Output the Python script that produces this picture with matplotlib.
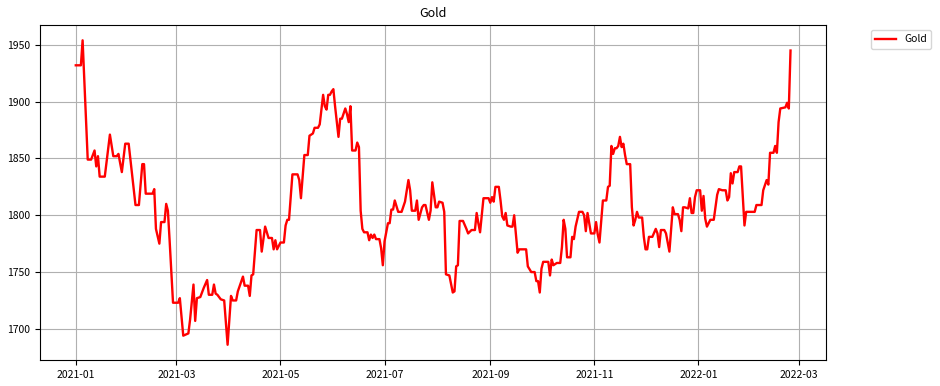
import pandas as pd
import matplotlib
matplotlib.use('Agg')
import matplotlib.pyplot as plt
import matplotlib.dates as mdates

plt.rcParams['font.family'] = ['Noto Sans CJK SC', 'DejaVu Sans']

# Gold price
dates = [
    '2021-01-01', '2021-01-04', '2021-01-05', '2021-01-08', '2021-01-10', '2021-01-12',
    '2021-01-13', '2021-01-14', '2021-01-15', '2021-01-18', '2021-01-21', '2021-01-23',
    '2021-01-25', '2021-01-26', '2021-01-28', '2021-01-30', '2021-02-01', '2021-02-05',
    '2021-02-07', '2021-02-09', '2021-02-10', '2021-02-11', '2021-02-15', '2021-02-16',
    '2021-02-17', '2021-02-19', '2021-02-20', '2021-02-22', '2021-02-23', '2021-02-24',
    '2021-02-25', '2021-02-27', '2021-03-02', '2021-03-03', '2021-03-05', '2021-03-08',
    '2021-03-09', '2021-03-11', '2021-03-12', '2021-03-13', '2021-03-15', '2021-03-16',
    '2021-03-17', '2021-03-19', '2021-03-20', '2021-03-22', '2021-03-23', '2021-03-24',
    '2021-03-25', '2021-03-27', '2021-03-29', '2021-03-31', '2021-04-02', '2021-04-03',
    '2021-04-05', '2021-04-06', '2021-04-09', '2021-04-10', '2021-04-12', '2021-04-13',
    '2021-04-14', '2021-04-15', '2021-04-17', '2021-04-19', '2021-04-20', '2021-04-22',
    '2021-04-24', '2021-04-26', '2021-04-27', '2021-04-28', '2021-04-29', '2021-05-01',
    '2021-05-03', '2021-05-04', '2021-05-05', '2021-05-06', '2021-05-08', '2021-05-11',
    '2021-05-12', '2021-05-13', '2021-05-15', '2021-05-17', '2021-05-18', '2021-05-20',
    '2021-05-21', '2021-05-23', '2021-05-24', '2021-05-26', '2021-05-27', '2021-05-28',
    '2021-05-29', '2021-05-30', '2021-05-31', '2021-06-01', '2021-06-02', '2021-06-04',
    '2021-06-05', '2021-06-06', '2021-06-08', '2021-06-09', '2021-06-10', '2021-06-11',
    '2021-06-12', '2021-06-14', '2021-06-15', '2021-06-16', '2021-06-17', '2021-06-18',
    '2021-06-19', '2021-06-21', '2021-06-22', '2021-06-23', '2021-06-24', '2021-06-25',
    '2021-06-26', '2021-06-28', '2021-06-29', '2021-06-30', '2021-07-01', '2021-07-03',
    '2021-07-04', '2021-07-05', '2021-07-06', '2021-07-07', '2021-07-09', '2021-07-11',
    '2021-07-13', '2021-07-15', '2021-07-16', '2021-07-17', '2021-07-19', '2021-07-20',
    '2021-07-21', '2021-07-23', '2021-07-24', '2021-07-25', '2021-07-27', '2021-07-28',
    '2021-07-29', '2021-07-31', '2021-08-01', '2021-08-02', '2021-08-04', '2021-08-05',
    '2021-08-06', '2021-08-08', '2021-08-10', '2021-08-11', '2021-08-12', '2021-08-13',
    '2021-08-14', '2021-08-16', '2021-08-18', '2021-08-19', '2021-08-21', '2021-08-23',
    '2021-08-24', '2021-08-25', '2021-08-26', '2021-08-28', '2021-08-29', '2021-08-31',
    '2021-09-01', '2021-09-02', '2021-09-03', '2021-09-04', '2021-09-06', '2021-09-07',
    '2021-09-08', '2021-09-09', '2021-09-10', '2021-09-11', '2021-09-13', '2021-09-14',
    '2021-09-15', '2021-09-17', '2021-09-18', '2021-09-22', '2021-09-23', '2021-09-25',
    '2021-09-27', '2021-09-28', '2021-09-29', '2021-09-30', '2021-10-01', '2021-10-02',
    '2021-10-05', '2021-10-06', '2021-10-07', '2021-10-08', '2021-10-10', '2021-10-12',
    '2021-10-13', '2021-10-14', '2021-10-15', '2021-10-16', '2021-10-18', '2021-10-19',
    '2021-10-20', '2021-10-21', '2021-10-23', '2021-10-25', '2021-10-26', '2021-10-27',
    '2021-10-28', '2021-10-30', '2021-11-01', '2021-11-02', '2021-11-03', '2021-11-04',
    '2021-11-06', '2021-11-08', '2021-11-09', '2021-11-10', '2021-11-11', '2021-11-12',
    '2021-11-13', '2021-11-14', '2021-11-15', '2021-11-16', '2021-11-17', '2021-11-18',
    '2021-11-19', '2021-11-20', '2021-11-22', '2021-11-23', '2021-11-24', '2021-11-25',
    '2021-11-26', '2021-11-27', '2021-11-29', '2021-11-30', '2021-12-01', '2021-12-02',
    '2021-12-03', '2021-12-05', '2021-12-07', '2021-12-08', '2021-12-09', '2021-12-10',
    '2021-12-12', '2021-12-13', '2021-12-15', '2021-12-17', '2021-12-18', '2021-12-20',
    '2021-12-21', '2021-12-22', '2021-12-23', '2021-12-24', '2021-12-26', '2021-12-27',
    '2021-12-28', '2021-12-29', '2021-12-30', '2021-12-31', '2022-01-02', '2022-01-03',
    '2022-01-04', '2022-01-05', '2022-01-06', '2022-01-08', '2022-01-10', '2022-01-11',
    '2022-01-12', '2022-01-13', '2022-01-15', '2022-01-17', '2022-01-18', '2022-01-19',
    '2022-01-20', '2022-01-21', '2022-01-22', '2022-01-24', '2022-01-25', '2022-01-26',
    '2022-01-28', '2022-01-29', '2022-02-03', '2022-02-04', '2022-02-07', '2022-02-08',
    '2022-02-10', '2022-02-11', '2022-02-12', '2022-02-14', '2022-02-15', '2022-02-16',
    '2022-02-17', '2022-02-18', '2022-02-21', '2022-02-22', '2022-02-23', '2022-02-24',
]
gold = [
    1932, 1932, 1954, 1849, 1849, 1857,
    1843, 1852, 1834, 1834, 1871, 1852,
    1852, 1854, 1838, 1863, 1863, 1809,
    1809, 1845, 1845, 1819, 1819, 1823,
    1788, 1775, 1794, 1794, 1810, 1804,
    1778, 1723, 1723, 1727, 1694, 1696,
    1708, 1739, 1707, 1727, 1728, 1732,
    1736, 1743, 1730, 1730, 1739, 1731,
    1730, 1726, 1725, 1686, 1729, 1725,
    1725, 1733, 1746, 1738, 1738, 1729,
    1747, 1748, 1787, 1787, 1768, 1790,
    1780, 1780, 1770, 1778, 1770, 1776,
    1776, 1791, 1796, 1796, 1836, 1836,
    1831, 1815, 1853, 1853, 1870, 1872,
    1877, 1877, 1880, 1906, 1896, 1893,
    1906, 1906, 1909, 1911, 1896, 1869,
    1885, 1885, 1894, 1889, 1882, 1896,
    1857, 1857, 1864, 1860, 1804, 1788,
    1785, 1785, 1778, 1783, 1780, 1783,
    1779, 1779, 1771, 1756, 1777, 1793,
    1793, 1805, 1805, 1813, 1803, 1803,
    1812, 1831, 1822, 1804, 1804, 1813,
    1796, 1807, 1809, 1809, 1796, 1804,
    1829, 1807, 1807, 1812, 1811, 1803,
    1748, 1747, 1732, 1733, 1755, 1756,
    1795, 1795, 1788, 1784, 1787, 1787,
    1802, 1793, 1785, 1815, 1815, 1815,
    1811, 1816, 1812, 1825, 1825, 1813,
    1799, 1796, 1802, 1791, 1790, 1790,
    1800, 1767, 1770, 1770, 1755, 1750,
    1750, 1742, 1742, 1732, 1753, 1759,
    1759, 1747, 1761, 1756, 1758, 1758,
    1772, 1796, 1788, 1763, 1763, 1781,
    1779, 1790, 1803, 1803, 1800, 1786,
    1802, 1784, 1784, 1794, 1783, 1776,
    1813, 1813, 1825, 1826, 1861, 1854,
    1859, 1859, 1861, 1869, 1860, 1863,
    1853, 1845, 1845, 1807, 1791, 1796,
    1803, 1798, 1798, 1781, 1770, 1770,
    1781, 1781, 1788, 1784, 1772, 1787,
    1787, 1784, 1768, 1807, 1801, 1801,
    1796, 1786, 1807, 1807, 1806, 1815,
    1802, 1802, 1816, 1822, 1822, 1804,
    1817, 1797, 1790, 1796, 1796, 1807,
    1818, 1823, 1822, 1822, 1813, 1816,
    1837, 1828, 1838, 1838, 1843, 1843,
    1791, 1803, 1803, 1809, 1809, 1822,
    1831, 1827, 1855, 1855, 1861, 1855,
    1882, 1894, 1895, 1899, 1894, 1945,
]

df = pd.DataFrame({'date': pd.to_datetime(dates), 'Gold': gold})

fig = plt.figure(figsize=(9.4, 3.86), dpi=100)
ax = fig.add_axes([0.0426, 0.0674, 0.8364, 0.8676])
ax.plot(df['date'], df['Gold'], color='red', linewidth=1.7, label='Gold')
ax.set_title('Gold', fontsize=9)
ax.grid(True)
ax.xaxis.set_major_locator(mdates.MonthLocator(bymonth=[1, 3, 5, 7, 9, 11]))
ax.xaxis.set_major_formatter(mdates.DateFormatter('%Y-%m'))
ax.tick_params(labelsize=7.5)
ax.legend(bbox_to_anchor=(1.05, 1), loc='upper left', fontsize=7.5)

fig.savefig('out.png', dpi=100)
